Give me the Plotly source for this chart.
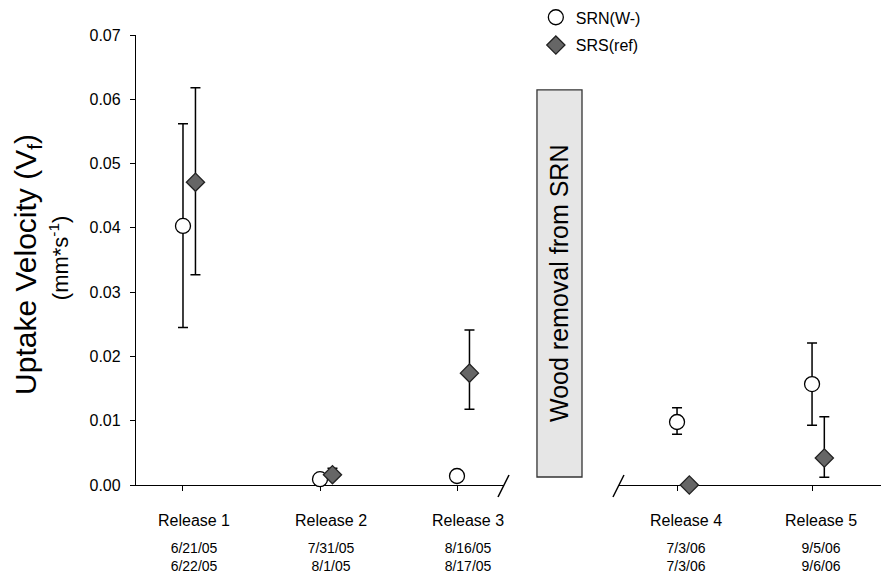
import plotly.graph_objects as go

# ---- data ----
release_x = [1, 2, 3, 4, 5]
release_labels = ["Release 1", "Release 2", "Release 3", "Release 4", "Release 5"]
date_labels = ["6/21/05<br>6/22/05", "7/31/05<br>8/1/05", "8/16/05<br>8/17/05",
               "7/3/06<br>7/3/06", "9/5/06<br>9/6/06"]

srn_mean = [0.0403, 0.0009, 0.0014, 0.0098, 0.0157]
srn_plus = [0.0159, 0.0, 0.0, 0.0022, 0.0064]
srn_minus = [0.0158, 0.0, 0.0, 0.0019, 0.0064]

srs_mean = [0.0471, 0.0016, 0.0174, 0.0, 0.0042]
srs_plus = [0.0147, 0.0010, 0.0067, 0.0, 0.0064]
srs_minus = [0.0144, 0.0006, 0.0056, 0.0, 0.0030]

srs_offset = 0.091
FONT = "Liberation Sans, Arial, sans-serif"

fig = go.Figure()

segments = [(slice(0, 3), "x", True), (slice(3, 5), "x2", False)]
for sl, xa, show in segments:
    xs = release_x[sl]
    fig.add_trace(go.Scatter(
        x=xs, y=srn_mean[sl], xaxis=xa, yaxis="y", mode="markers",
        name="SRN(W-)", legendgroup="srn", showlegend=show, cliponaxis=False,
        marker=dict(symbol="circle", size=15, color="white",
                    line=dict(color="black", width=1.3)),
        error_y=dict(type="data", symmetric=False, array=srn_plus[sl],
                     arrayminus=srn_minus[sl], color="black", thickness=1.5, width=5),
    ))
for sl, xa, show in segments:
    xs = [v + srs_offset for v in release_x[sl]]
    fig.add_trace(go.Scatter(
        x=xs, y=srs_mean[sl], xaxis=xa, yaxis="y", mode="markers",
        name="SRS(ref)", legendgroup="srs", showlegend=show, cliponaxis=False,
        marker=dict(symbol="diamond", size=14, color="#666666",
                    line=dict(color="#222222", width=1.3)),
        error_y=dict(type="data", symmetric=False, array=srs_plus[sl],
                     arrayminus=srs_minus[sl], color="black", thickness=1.5, width=5),
    ))

d1_end = 0.4887
d2_start = 0.6414
r1 = [0.657, 3.343]
r2 = [3.570, 5.570]

common_x = dict(showline=True, linecolor="black", linewidth=1.3, ticks="outside",
                ticklen=5, tickcolor="black", showgrid=False, zeroline=False,
                automargin=False, ticklabelstandoff=16,
                tickfont=dict(family=FONT, size=16, color="black"), layer="below traces")
date_x = dict(showline=False, ticks="", showgrid=False, zeroline=False, anchor="y",
              side="bottom", ticklabelstandoff=53, automargin=False,
              tickfont=dict(family=FONT, size=14, color="black"))

# page body adds an 8px offset, so margins are reduced by 8px on the left/top
fig.update_layout(
    width=889, height=582,
    margin=dict(l=128, r=8, t=27, b=105, autoexpand=False),
    paper_bgcolor="white", plot_bgcolor="white",
    font=dict(family=FONT, color="black"),
    xaxis=dict(domain=[0, d1_end], range=r1, tickvals=release_x[0:3],
               ticktext=release_labels[0:3], ticklabelshift=11, anchor="y", **common_x),
    xaxis2=dict(domain=[d2_start, 1], range=r2, tickvals=release_x[3:5],
                ticktext=release_labels[3:5], ticklabelshift=9, anchor="y", **common_x),
    xaxis3=dict(overlaying="x", range=r1, tickvals=release_x[0:3], ticktext=date_labels[0:3],
                ticklabelshift=11, **date_x),
    xaxis4=dict(overlaying="x2", range=r2, tickvals=release_x[3:5], ticktext=date_labels[3:5],
                ticklabelshift=9, **date_x),
    yaxis=dict(range=[0, 0.07], dtick=0.01, tickformat=".2f", showline=True,
               linecolor="black", linewidth=1.3, ticks="outside", ticklen=5,
               tickcolor="black", showgrid=False, zeroline=False, automargin=False,
               tickfont=dict(family=FONT, size=16, color="black"), ticklabelstandoff=6),
    showlegend=True,
    legend=dict(x=0.531, y=1.077, xanchor="left", yanchor="top",
                font=dict(family=FONT, size=16, color="black"),
                traceorder="grouped", tracegroupgap=4, bgcolor="rgba(0,0,0,0)",
                itemwidth=30),
)

# invisible dummy traces so overlay axes exist
fig.add_trace(go.Scatter(x=[None], y=[None], xaxis="x3", yaxis="y", showlegend=False))
fig.add_trace(go.Scatter(x=[None], y=[None], xaxis="x4", yaxis="y", showlegend=False))

# axis break marks
for xa in [d1_end, d2_start]:
    fig.add_shape(type="line", xref="paper", yref="paper", xsizemode="pixel",
                  ysizemode="pixel", xanchor=xa, yanchor=0, x0=-6, x1=5, y0=-12, y1=10,
                  line=dict(color="black", width=1.5))

# wood removal box
fig.add_shape(type="rect", xref="paper", yref="paper", x0=0.5325, x1=0.5923,
              y0=0.0178, y1=0.878, fillcolor="#e6e6e6", line=dict(color="#333333", width=1.3))
fig.add_annotation(text="Wood removal from SRN", xref="paper", yref="paper",
                   x=(0.5325 + 0.5923) / 2, y=(0.0178 + 0.878) / 2, showarrow=False,
                   textangle=-90, font=dict(family=FONT, size=25, color="black"))

# y-axis titles
fig.add_annotation(text="Uptake Velocity (V<sub>f</sub>)", xref="paper", yref="paper",
                   x=0, y=0.489, xanchor="center", yanchor="middle", xshift=-108,
                   showarrow=False, textangle=-90,
                   font=dict(family=FONT, size=30, color="black"))
fig.add_annotation(text="(mm*s<sup>-1</sup>)", xref="paper", yref="paper",
                   x=0, y=0.504, xanchor="center", yanchor="middle", xshift=-77,
                   showarrow=False, textangle=-90,
                   font=dict(family=FONT, size=22, color="black"))

fig.write_html("out.html")
